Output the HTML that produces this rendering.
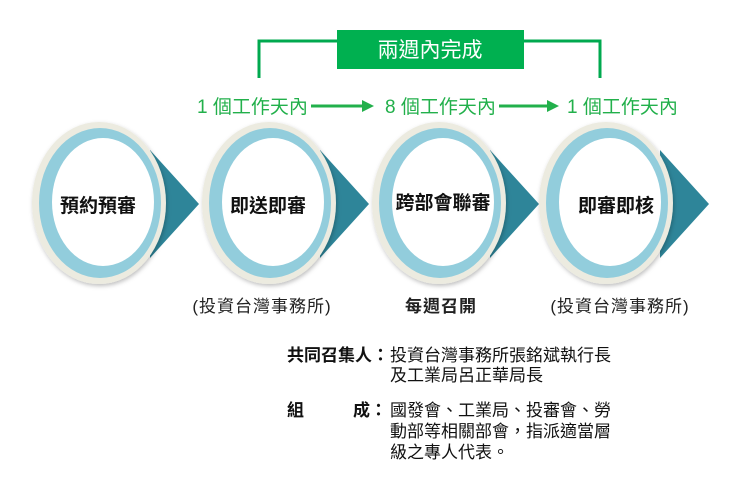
<!DOCTYPE html>
<html><head><meta charset="utf-8"><style>
body{margin:0;width:755px;height:487px;background:#fff;overflow:hidden;position:relative;font-family:"Liberation Sans","Noto Sans CJK TC",sans-serif;}
</style></head><body>
<svg width="755" height="487" style="position:absolute;left:0;top:0">
<defs>
<filter id="sh" x="-20%" y="-20%" width="140%" height="140%"><feDropShadow dx="1" dy="2" stdDeviation="2" flood-color="#000" flood-opacity="0.25"/></filter>
</defs>
<polyline points="259,78 259,41 600,41 600,78" fill="none" stroke="#00a94f" stroke-width="3"/>
<rect x="337" y="30" width="187" height="39" fill="#00b050"/>
<text x="430" y="57" font-size="21" fill="#fff" text-anchor="middle" font-family="Noto Sans CJK TC, sans-serif">兩週內完成</text>
<g fill="#22b04b" font-size="19" font-family="Liberation Sans, Noto Sans CJK TC, sans-serif">
<text x="197" y="113">1 個工作天內</text>
<text x="385" y="113">8 個工作天內</text>
<text x="567" y="113">1 個工作天內</text>
</g>
<g stroke="#22b04b" stroke-width="3" fill="#22b04b">
<line x1="311" y1="106" x2="365" y2="106"/><polygon points="362,100 374,106 362,112" stroke="none"/>
<line x1="499" y1="106" x2="550" y2="106"/><polygon points="547,100 559,106 547,112" stroke="none"/>
</g>
<g fill="#2e8599">
<polygon points="150,150 199,204 150,258"/>
<polygon points="320,150 369,204 320,258"/>
<polygon points="490,150 539,204 490,258"/>
<polygon points="660,150 709,204 660,258"/>
</g>
<g filter="url(#sh)">
<ellipse cx="99" cy="203" rx="67" ry="81" fill="#ecebe0"/>
<ellipse cx="269" cy="203" rx="67" ry="81" fill="#ecebe0"/>
<ellipse cx="439" cy="203" rx="67" ry="81" fill="#ecebe0"/>
<ellipse cx="606" cy="203" rx="67" ry="81" fill="#ecebe0"/>
</g>
<g fill="#92cddc">
<ellipse cx="100" cy="203" rx="61" ry="75"/>
<ellipse cx="270" cy="203" rx="61" ry="75"/>
<ellipse cx="440" cy="203" rx="61" ry="75"/>
<ellipse cx="607" cy="203" rx="61" ry="75"/>
</g>
<g fill="#fff">
<ellipse cx="103" cy="202" rx="51" ry="64"/>
<ellipse cx="273" cy="202" rx="51" ry="64"/>
<ellipse cx="443" cy="202" rx="51" ry="64"/>
<ellipse cx="610" cy="202" rx="51" ry="64"/>
</g>
<g font-size="19" font-weight="bold" fill="#111" text-anchor="middle" font-family="Noto Sans CJK TC, sans-serif">
<text x="98" y="212">預約預審</text>
<text x="268" y="212">即送即審</text>
<text x="443" y="209">跨部會聯審</text>
<text x="616" y="212">即審即核</text>
</g>
<g font-size="17" fill="#222" text-anchor="middle" font-family="Liberation Sans, Noto Sans CJK TC, sans-serif" letter-spacing="1">
<text x="262" y="312">(投資台灣事務所)</text>
<text x="441" y="312" font-weight="bold">每週召開</text>
<text x="620" y="312">(投資台灣事務所)</text>
</g>
<g font-size="17" fill="#111" font-family="Liberation Sans, Noto Sans CJK TC, sans-serif">
<text x="287" y="361" font-weight="bold">共同召集人：</text>
<text x="390" y="361">投資台灣事務所張銘斌執行長</text>
<text x="390" y="381">及工業局呂正華局長</text>
<text x="287" y="416" font-weight="bold">組</text>
<text x="353" y="416" font-weight="bold">成：</text>
<text x="390" y="416">國發會、工業局、投審會、勞</text>
<text x="390" y="437">動部等相關部會，指派適當層</text>
<text x="390" y="458">級之專人代表。</text>
</g>
</svg>
</body></html>
